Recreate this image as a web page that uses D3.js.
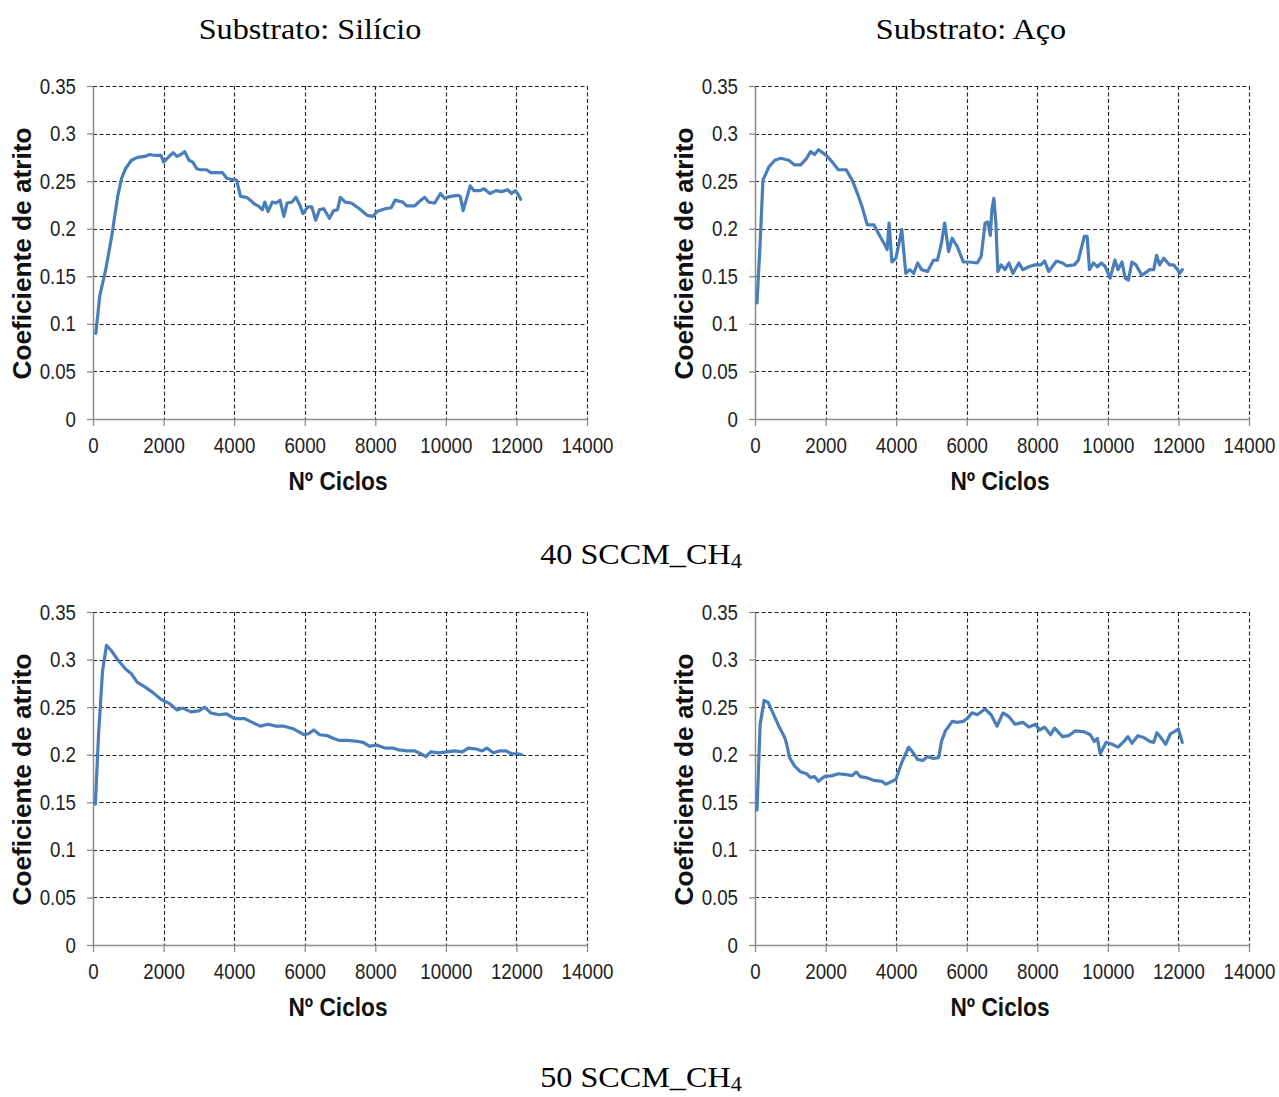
<!DOCTYPE html>
<html>
<head>
<meta charset="UTF-8">
<script src="https://d3js.org/d3.v7.min.js"></script>
<style>
  body { margin: 0; background: #fff; }
  .tick-label { font-family: "Liberation Sans Narrow", "Arial Narrow", "Liberation Sans", sans-serif; font-size: 22px; fill: #222; }
  .axis-title { font-family: "Liberation Sans", Arial, sans-serif; font-size: 25px; font-weight: bold; fill: #111; }
  .caption { font-family: "Liberation Serif", "Times New Roman", serif; font-size: 29px; fill: #000; }
</style>
</head>
<body>
<div id="chart"></div>
<script>
// tick values
const xTicks = [0, 2000, 4000, 6000, 8000, 10000, 12000, 14000];
const yTicks = [0, 0.05, 0.1, 0.15, 0.2, 0.25, 0.3, 0.35];

// 40 SCCM, silicon substrate  [ciclos, coeficiente]
const si40 = [[80,0.090],[190,0.129],[360,0.157],[530,0.192],[700,0.234],[810,0.253],[920,0.263],[1090,0.272],[1260,0.275],[1480,0.276],[1600,0.278],[1760,0.277],[1930,0.277],[2000,0.270],[2160,0.276],[2270,0.280],[2380,0.276],[2490,0.278],[2600,0.281],[2720,0.272],[2830,0.270],[2940,0.263],[3050,0.262],[3220,0.262],[3340,0.259],[3670,0.259],[3790,0.253],[3900,0.252],[4070,0.251],[4180,0.234],[4350,0.233],[4460,0.230],[4570,0.226],[4680,0.224],[4800,0.220],[4870,0.228],[4960,0.218],[5080,0.228],[5190,0.227],[5300,0.230],[5410,0.213],[5500,0.227],[5640,0.228],[5750,0.233],[5860,0.225],[5950,0.216],[6090,0.223],[6200,0.223],[6310,0.209],[6420,0.220],[6540,0.221],[6700,0.211],[6820,0.219],[6930,0.220],[7010,0.233],[7150,0.228],[7320,0.227],[7550,0.221],[7770,0.214],[7940,0.213],[8050,0.218],[8280,0.221],[8450,0.222],[8560,0.230],[8780,0.228],[8890,0.224],[9120,0.224],[9230,0.228],[9400,0.233],[9510,0.228],[9680,0.227],[9850,0.237],[9960,0.232],[10130,0.234],[10350,0.235],[10410,0.234],[10490,0.219],[10690,0.245],[10800,0.240],[10970,0.240],[11080,0.242],[11250,0.237],[11420,0.240],[11580,0.239],[11750,0.241],[11860,0.237],[11970,0.240],[12050,0.236],[12120,0.231]];

// 40 SCCM, steel substrate
const aco40 = [[56,0.122],[146,0.185],[225,0.251],[394,0.265],[562,0.272],[731,0.274],[956,0.272],[1124,0.267],[1293,0.267],[1462,0.274],[1574,0.281],[1687,0.278],[1799,0.283],[1912,0.280],[2024,0.277],[2193,0.270],[2361,0.262],[2586,0.262],[2755,0.251],[2924,0.235],[3036,0.223],[3182,0.204],[3374,0.204],[3542,0.192],[3711,0.181],[3745,0.178],[3800,0.206],[3880,0.165],[3992,0.169],[4160,0.199],[4273,0.153],[4385,0.157],[4498,0.153],[4610,0.164],[4723,0.157],[4891,0.155],[5060,0.167],[5172,0.167],[5285,0.185],[5375,0.206],[5487,0.176],[5589,0.190],[5735,0.181],[5904,0.165],[6072,0.165],[6297,0.164],[6410,0.171],[6522,0.206],[6600,0.207],[6668,0.193],[6713,0.220],[6769,0.232],[6825,0.207],[6882,0.155],[6972,0.162],[7084,0.157],[7197,0.164],[7309,0.153],[7478,0.164],[7590,0.157],[7759,0.160],[7928,0.162],[8096,0.162],[8209,0.166],[8321,0.155],[8546,0.166],[8715,0.164],[8827,0.161],[9052,0.162],[9164,0.167],[9333,0.192],[9412,0.192],[9479,0.157],[9592,0.164],[9704,0.160],[9816,0.164],[9929,0.160],[10064,0.148],[10199,0.167],[10289,0.157],[10401,0.165],[10491,0.148],[10581,0.146],[10682,0.165],[10795,0.162],[10963,0.151],[11188,0.157],[11300,0.157],[11379,0.172],[11469,0.162],[11581,0.169],[11750,0.162],[11862,0.162],[11975,0.157],[12031,0.153],[12110,0.157]];

// 50 SCCM, silicon substrate
const si50 = [[67,0.148],[157,0.221],[270,0.288],[382,0.315],[528,0.309],[696,0.300],[921,0.290],[1089,0.285],[1258,0.276],[1482,0.271],[1707,0.265],[1932,0.258],[2156,0.254],[2381,0.247],[2549,0.249],[2774,0.245],[2998,0.246],[3167,0.250],[3335,0.244],[3560,0.242],[3785,0.243],[4009,0.238],[4290,0.238],[4514,0.234],[4739,0.230],[4964,0.232],[5188,0.230],[5413,0.230],[5694,0.227],[5975,0.221],[6109,0.222],[6255,0.226],[6424,0.221],[6648,0.220],[6817,0.217],[6985,0.215],[7210,0.215],[7491,0.214],[7659,0.213],[7827,0.209],[8052,0.210],[8277,0.207],[8501,0.207],[8670,0.205],[8894,0.204],[9119,0.204],[9287,0.201],[9433,0.198],[9568,0.203],[9793,0.202],[10017,0.203],[10242,0.204],[10467,0.203],[10635,0.207],[10860,0.206],[11028,0.204],[11163,0.207],[11343,0.202],[11533,0.204],[11702,0.204],[11870,0.201],[12039,0.201],[12151,0.200]];

// 50 SCCM, steel substrate
const aco50 = [[56,0.142],[146,0.232],[259,0.257],[371,0.255],[506,0.244],[675,0.230],[843,0.218],[900,0.211],[978,0.197],[1124,0.188],[1293,0.182],[1462,0.180],[1574,0.176],[1687,0.177],[1799,0.172],[1968,0.177],[2193,0.178],[2361,0.180],[2586,0.179],[2755,0.178],[2867,0.182],[2980,0.177],[3149,0.176],[3374,0.173],[3598,0.172],[3711,0.169],[3880,0.172],[3992,0.174],[4161,0.192],[4352,0.208],[4442,0.204],[4610,0.195],[4757,0.194],[4891,0.198],[5060,0.196],[5206,0.197],[5285,0.214],[5397,0.225],[5589,0.235],[5735,0.234],[5904,0.235],[6016,0.238],[6151,0.244],[6297,0.242],[6522,0.248],[6691,0.242],[6860,0.230],[7028,0.244],[7197,0.240],[7366,0.232],[7590,0.234],[7759,0.229],[7950,0.232],[8063,0.226],[8209,0.229],[8377,0.221],[8490,0.228],[8715,0.219],[8883,0.220],[9075,0.225],[9333,0.224],[9502,0.221],[9615,0.214],[9704,0.217],[9783,0.201],[9952,0.213],[10121,0.211],[10289,0.208],[10458,0.214],[10570,0.219],[10682,0.212],[10851,0.220],[11020,0.218],[11188,0.214],[11300,0.213],[11390,0.223],[11503,0.218],[11638,0.211],[11773,0.222],[11920,0.225],[11998,0.227],[12110,0.213]];

const W = 1279, H = 1097;
const svg = d3.select("#chart").append("svg")
    .attr("width", W)
    .attr("height", H);

// plot areas (left, top) ; all same size
const pw = 494, ph = 333;
const narrow = 0.85; // horizontal squeeze for tick labels (no narrow font installed)
const panels = [
    {data: si40, left: 93, top: 86},
    {data: aco40, left: 755, top: 86},
    {data: si50, left: 93, top: 612},
    {data: aco50, left: 755, top: 612}
];

panels.forEach(p => drawPanel(p));

function drawPanel(p) {
    const g = svg.append("g").attr("transform", `translate(${p.left},${p.top})`);

    const x = d3.scaleLinear().domain([0, 14000]).range([0, pw]);
    const y = d3.scaleLinear().domain([0, 0.35]).range([ph, 0]);

    // dashed grid
    g.append("g").selectAll("line")
        .data(yTicks.filter(d => d > 0))
        .join("line")
        .attr("x1", 0).attr("x2", pw)
        .attr("y1", d => Math.round(y(d)) + 0.5).attr("y2", d => Math.round(y(d)) + 0.5)
        .attr("stroke", "#222").attr("stroke-width", 1.1)
        .attr("stroke-dasharray", "4,2.5");
    g.append("g").selectAll("line")
        .data(xTicks.filter(d => d > 0))
        .join("line")
        .attr("y1", 0).attr("y2", ph)
        .attr("x1", d => Math.round(x(d)) + 0.5).attr("x2", d => Math.round(x(d)) + 0.5)
        .attr("stroke", "#222").attr("stroke-width", 1.1)
        .attr("stroke-dasharray", "4,2.5");

    // axes
    const yAxis = g.append("g")
        .call(d3.axisLeft(y).tickValues(yTicks).tickSize(6).tickSizeOuter(0).tickFormat(d => String(+d.toFixed(2))));
    const xAxis = g.append("g")
        .attr("transform", `translate(0,${ph})`)
        .call(d3.axisBottom(x).tickValues(xTicks).tickSize(7).tickSizeOuter(0).tickFormat(d3.format("d")));
    [xAxis, yAxis].forEach(ax => {
        ax.attr("font-size", null).attr("font-family", null);
        ax.select(".domain").attr("stroke", "#8c8c8c").attr("stroke-width", 1.5);
        ax.selectAll(".tick line").attr("stroke", "#8c8c8c").attr("stroke-width", 1.3);
        ax.selectAll(".tick text").attr("class", "tick-label")
            .attr("transform", `scale(${narrow},1)`);
    });
    yAxis.selectAll(".tick text").attr("x", -17 / narrow);
    xAxis.selectAll(".tick text").attr("y", 18);

    // line
    const line = d3.line().x(d => x(d[0])).y(d => y(d[1]));
    g.append("path")
        .datum(p.data)
        .attr("d", line)
        .attr("fill", "none")
        .attr("stroke", "#4a7ebb")
        .attr("stroke-width", 3.2)
        .attr("stroke-linejoin", "round")
        .attr("stroke-linecap", "round");

    // axis titles
    g.append("text")
        .attr("class", "axis-title")
        .attr("x", pw / 2 - 2)
        .attr("y", ph + 71)
        .attr("text-anchor", "middle")
        .attr("textLength", 99)
        .attr("lengthAdjust", "spacingAndGlyphs")
        .text("Nº Ciclos");
    g.append("text")
        .attr("class", "axis-title")
        .attr("transform", `translate(-62,${ph / 2 + 1}) rotate(-90)`)
        .attr("text-anchor", "middle")
        .attr("textLength", 252)
        .attr("lengthAdjust", "spacingAndGlyphs")
        .text("Coeficiente de atrito");
}

// captions (figure is a little stretched horizontally)
const capScale = 1.11;
const captions = [
    {t: "Substrato: Silício", x: 310, y: 39},
    {t: "Substrato: Aço", x: 971, y: 39}
];
captions.forEach(c => {
    svg.append("text").attr("class", "caption")
        .attr("transform", `scale(${capScale},1)`)
        .attr("x", c.x / capScale).attr("y", c.y)
        .attr("text-anchor", "middle")
        .text(c.t);
});

[{n: "40", y: 564}, {n: "50", y: 1087}].forEach(c => {
    const t = svg.append("text").attr("class", "caption")
        .attr("transform", `scale(${capScale},1)`)
        .attr("x", 641 / capScale).attr("y", c.y)
        .attr("text-anchor", "middle");
    t.append("tspan").text(c.n + " SCCM_CH");
    t.append("tspan").attr("font-size", "20px").attr("dy", 4).text("4");
});
</script>
</body>
</html>
